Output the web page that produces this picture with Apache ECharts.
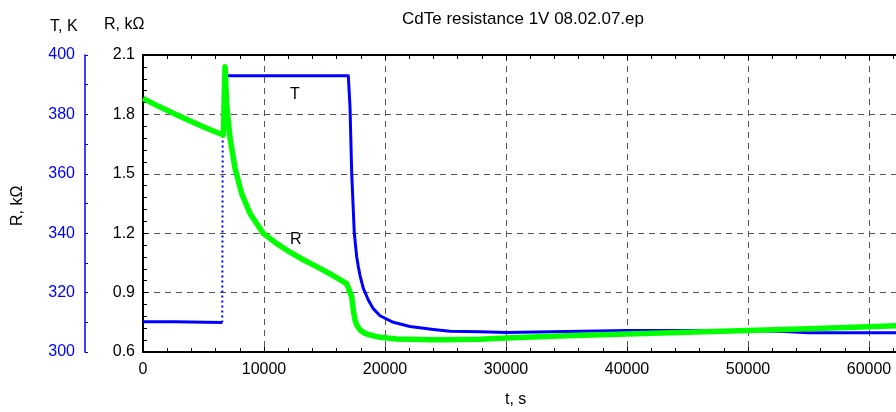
<!DOCTYPE html>
<html>
<head>
<meta charset="utf-8">
<script src="https://cdn.jsdelivr.net/npm/echarts@6/dist/echarts.min.js"></script>
<style>html,body{margin:0;padding:0;background:#fff;}#c{width:896px;height:412px;}</style>
</head>
<body>
<div id="c"></div>
<script>
// Temperature (K) – before the heating step
const tempTimeA = [0, 2600, 2700, 6550];
const tempValA = [310.2, 310.2, 309.9, 309.9];
// Temperature step (dotted)
const tempTimeStep = [6550, 6600];
const tempValStep = [309.9, 393.0];
// Temperature – after the step
const tempTimeB = [6600, 10000, 16967, 17107, 17248, 17355, 17463, 17659, 17797, 17934, 18207, 18620, 19030, 19587, 20690, 22066, 23995, 25372, 27851, 30000, 35000, 40000, 45000, 50000, 53000, 55000, 60000, 62230];
const tempValB = [393.0, 393.0, 393.0, 382.6, 360.2, 350.0, 340.0, 332.1, 328.7, 325.8, 321.4, 317.5, 314.6, 312.2, 310.0, 308.6, 307.6, 307.0, 306.8, 306.6, 306.9, 307.2, 307.2, 307.2, 306.9, 306.5, 306.5, 306.5];
// Resistance (kΩ)
const resTime = [0, 1250, 2500, 3900, 5264, 6640, 6780, 6917, 7190, 7603, 8157, 8843, 9942, 11000, 12149, 13250, 14355, 15600, 16835, 16967, 17248, 17380, 17521, 17661, 17934, 18347, 18760, 19587, 20967, 23719, 25000, 27851, 30000, 35000, 40000, 45000, 50000, 55000, 60000, 62230];
const resVal = [1.881, 1.842, 1.806, 1.767, 1.730, 1.696, 2.041, 1.847, 1.681, 1.529, 1.400, 1.300, 1.199, 1.150, 1.104, 1.066, 1.031, 0.990, 0.945, 0.935, 0.879, 0.812, 0.762, 0.736, 0.711, 0.694, 0.686, 0.674, 0.666, 0.662, 0.662, 0.665, 0.671, 0.682, 0.691, 0.700, 0.708, 0.718, 0.728, 0.733];
// Axis ticks
const xTicks = {min: 0, max: 62230, interval: 10000};
const rTicks = {min: 0.6, max: 2.1, interval: 0.3};
const tTicks = {min: 300, max: 400, interval: 20};

const zip = (a, b) => a.map((x, i) => [x, b[i]]);
const FONT = 'Liberation Sans, Arial, sans-serif';
const chart = echarts.init(document.getElementById('c'));
const dashed = {show: true, lineStyle: {color: '#555', type: [6, 5], width: 1}};
chart.setOption({
  animation: false,
  backgroundColor: '#fff',
  grid: {left: 143, right: 0, top: 55, bottom: 60, containLabel: false},
  xAxis: [{
    type: 'value', position: 'bottom', min: xTicks.min, max: xTicks.max, interval: xTicks.interval,
    axisLine: {show: true, onZero: false, lineStyle: {color: '#000', width: 2}},
    axisTick: {show: true, inside: true, length: 5, lineStyle: {color: '#000'}},
    minorTick: {show: true, splitNumber: 5, length: 4, lineStyle: {color: '#000'}},
    axisLabel: {color: '#000', fontSize: 16, fontFamily: FONT, margin: 10, showMaxLabel: false,
      formatter: v => (v > 61000 ? '' : String(v))},
    splitLine: dashed
  }, {
    type: 'value', position: 'top', min: xTicks.min, max: xTicks.max, interval: xTicks.interval,
    axisLine: {show: true, onZero: false, lineStyle: {color: '#000', width: 2}},
    axisTick: {show: true, inside: true, length: 5, lineStyle: {color: '#000'}},
    minorTick: {show: true, splitNumber: 5, length: 4, lineStyle: {color: '#000'}},
    axisLabel: {show: false}, splitLine: {show: false}
  }],
  yAxis: [{
    type: 'value', position: 'left', min: rTicks.min, max: rTicks.max, interval: rTicks.interval,
    axisLine: {show: true, onZero: false, lineStyle: {color: '#000', width: 2}},
    axisTick: {show: true, inside: true, length: 5, lineStyle: {color: '#000'}},
    minorTick: {show: true, splitNumber: 5, length: 4, lineStyle: {color: '#000'}},
    axisLabel: {color: '#000', fontSize: 16, fontFamily: FONT, margin: 8, formatter: v => v.toFixed(1)},
    splitLine: dashed
  }, {
    type: 'value', position: 'left', offset: 58, min: tTicks.min, max: tTicks.max, interval: tTicks.interval,
    axisLine: {show: true, onZero: false, lineStyle: {color: '#0000ff', width: 1.5}},
    axisTick: {show: true, inside: true, length: 3, lineStyle: {color: '#0000ff'}},
    minorTick: {show: true, splitNumber: 2, length: 3, lineStyle: {color: '#0000ff'}},
    axisLabel: {color: '#0000ff', fontSize: 16, fontFamily: FONT, margin: 10},
    splitLine: {show: false}
  }],
  series: [
    {type: 'line', xAxisIndex: 0, yAxisIndex: 1, data: zip(tempTimeA, tempValA), showSymbol: false,
      lineStyle: {color: '#0000ff', width: 3}, z: 3},
    {type: 'line', xAxisIndex: 0, yAxisIndex: 1, data: zip(tempTimeStep, tempValStep), showSymbol: false,
      lineStyle: {color: '#0000ff', width: 2, type: [2, 3]}, z: 3},
    {type: 'line', xAxisIndex: 0, yAxisIndex: 1, data: zip(tempTimeB, tempValB), showSymbol: false,
      lineStyle: {color: '#0000ff', width: 3, join: 'round'}, z: 3},
    {type: 'line', xAxisIndex: 0, yAxisIndex: 0, data: zip(resTime, resVal), showSymbol: false,
      lineStyle: {color: '#00ff00', width: 5.5, join: 'round'}, z: 4}
  ],
  graphic: [
    {type: 'text', x: 523, y: 11, style: {text: 'CdTe resistance 1V 08.02.07.ep', font: '17px ' + FONT, fill: '#000', textAlign: 'center'}},
    {type: 'text', x: 50, y: 19, style: {text: 'T, K', font: '16px ' + FONT, fill: '#000'}},
    {type: 'text', x: 104, y: 17, style: {text: 'R, k\u03A9', font: '16px ' + FONT, fill: '#000'}},
    {type: 'text', x: 10, y: 226, rotation: Math.PI / 2, style: {text: 'R, k\u03A9', font: '16px ' + FONT, fill: '#000'}},
    {type: 'text', x: 505, y: 392, style: {text: 't, s', font: '16px ' + FONT, fill: '#000'}},
    {type: 'text', x: 290, y: 87, style: {text: 'T', font: '16px ' + FONT, fill: '#000'}},
    {type: 'text', x: 290, y: 232, style: {text: 'R', font: '16px ' + FONT, fill: '#000'}}
  ]
});
</script>
</body>
</html>
